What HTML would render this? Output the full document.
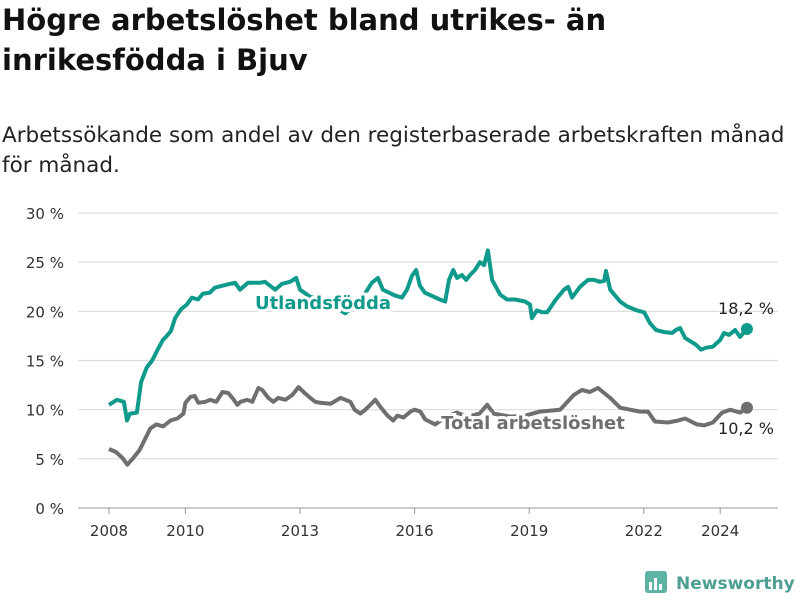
<!DOCTYPE html>
<html><head><meta charset="utf-8"><style>
body{margin:0;background:#fff;font-family:"DejaVu Sans",sans-serif;}
.wrap{position:relative;width:800px;height:600px;overflow:hidden}
h1{position:absolute;left:2px;top:0px;margin:0;font-size:29px;line-height:40px;font-weight:bold;color:#111;width:700px}
.sub{position:absolute;left:2px;top:121px;font-size:21.5px;line-height:30px;color:#222;width:798px;white-space:nowrap}
</style></head><body><div class="wrap">
<h1>Högre arbetslöshet bland utrikes- än inrikesfödda i Bjuv</h1>
<div class="sub">Arbetssökande som andel av den registerbaserade arbetskraften månad<br>för månad.</div>
<svg id="chart" width="800" height="600" style="position:absolute;left:0;top:0"></svg>
</div>
<script>
const yTicks=[0,5,10,15,20,25,30];
const xTicks=[2008,2010,2013,2016,2019,2022,2024];
const utlDates=[2008.00,2008.21,2008.39,2008.47,2008.55,2008.73,2008.84,2008.99,2009.13,2009.26,2009.41,2009.49,2009.62,2009.73,2009.88,2010.04,2010.17,2010.33,2010.46,2010.64,2010.77,2010.96,2011.17,2011.30,2011.43,2011.64,2011.82,2011.95,2012.08,2012.35,2012.53,2012.74,2012.90,2013.00,2013.26,2013.79,2014.18,2014.57,2014.88,2015.04,2015.17,2015.49,2015.67,2015.80,2015.93,2016.04,2016.14,2016.27,2016.66,2016.80,2016.90,2017.01,2017.11,2017.24,2017.35,2017.45,2017.58,2017.71,2017.82,2017.92,2018.03,2018.24,2018.42,2018.63,2018.89,2019.02,2019.07,2019.20,2019.34,2019.47,2019.70,2019.91,2020.02,2020.12,2020.33,2020.54,2020.70,2020.85,2020.96,2021.01,2021.12,2021.38,2021.56,2021.82,2022.01,2022.16,2022.32,2022.53,2022.74,2022.84,2022.95,2023.08,2023.37,2023.50,2023.63,2023.81,2024.00,2024.10,2024.23,2024.39,2024.52,2024.70];
const utlValues=[10.5,11.0,10.8,8.9,9.6,9.7,12.8,14.3,15.0,16.0,17.1,17.4,18.0,19.3,20.2,20.7,21.4,21.2,21.8,21.9,22.4,22.6,22.8,22.9,22.2,22.9,22.9,22.9,23.0,22.2,22.8,23.0,23.4,22.2,21.5,20.8,19.8,21.0,22.9,23.4,22.2,21.6,21.4,22.2,23.6,24.2,22.6,21.9,21.2,21.0,23.2,24.2,23.4,23.7,23.2,23.7,24.2,25.0,24.7,26.2,23.2,21.7,21.2,21.2,21.0,20.7,19.3,20.1,19.9,19.9,21.2,22.2,22.5,21.4,22.5,23.2,23.2,23.0,23.1,24.1,22.2,21.0,20.5,20.1,19.9,18.8,18.1,17.9,17.8,18.1,18.3,17.3,16.6,16.1,16.3,16.4,17.1,17.8,17.6,18.1,17.4,18.2];
const totDates=[2008.00,2008.18,2008.35,2008.48,2008.64,2008.80,2008.93,2009.08,2009.24,2009.42,2009.61,2009.79,2009.95,2010.00,2010.13,2010.24,2010.34,2010.52,2010.65,2010.81,2010.97,2011.12,2011.23,2011.36,2011.44,2011.62,2011.75,2011.91,2012.01,2012.17,2012.30,2012.43,2012.62,2012.80,2012.96,2013.12,2013.27,2013.40,2013.53,2013.80,2014.06,2014.32,2014.43,2014.58,2014.71,2014.84,2014.97,2015.10,2015.29,2015.44,2015.55,2015.71,2015.89,2016.00,2016.15,2016.28,2016.54,2016.80,2017.10,2017.40,2017.70,2017.90,2018.07,2018.50,2018.90,2019.28,2019.81,2020.17,2020.38,2020.59,2020.80,2021.12,2021.38,2021.64,2021.90,2022.11,2022.29,2022.63,2022.90,2023.08,2023.39,2023.58,2023.81,2024.05,2024.26,2024.52,2024.70];
const totValues=[6.0,5.7,5.1,4.4,5.1,5.9,6.9,8.1,8.5,8.3,8.9,9.1,9.6,10.7,11.3,11.4,10.7,10.8,11.0,10.8,11.8,11.7,11.2,10.5,10.8,11.0,10.8,12.2,12.0,11.2,10.8,11.2,11.0,11.5,12.3,11.7,11.2,10.8,10.7,10.6,11.2,10.8,10.0,9.6,10.0,10.5,11.0,10.3,9.4,8.9,9.4,9.2,9.8,10.0,9.8,9.0,8.5,9.2,9.7,9.3,9.6,10.5,9.6,9.3,9.4,9.8,10.0,11.5,12.0,11.8,12.2,11.2,10.2,10.0,9.8,9.8,8.8,8.7,8.9,9.1,8.5,8.4,8.7,9.7,10.0,9.7,10.2];
const endLabels=["18,2 %","10,2 %"];

const NS="http://www.w3.org/2000/svg";
const FONT='DejaVu Sans, sans-serif';
const svg=document.getElementById('chart');
const X=y=>109+(y-2008)*38.2;
const Y=v=>508-v*9.833;
function mk(tag,attrs,parent){const e=document.createElementNS(NS,tag);for(const k in attrs)e.setAttribute(k,attrs[k]);(parent||svg).appendChild(e);return e;}
yTicks.forEach(t=>{
  const g=mk('line',{x1:78,x2:778,y1:Y(t),y2:Y(t),stroke:t===0?'#bbb':'#ddd','stroke-width':t===0?1.5:1.2});
  
  
  const l=mk('text',{x:64,y:Y(t)+6,'text-anchor':'end','font-size':15,fill:'#333','font-family':FONT});
  l.textContent=t+' %';
  
  
});
xTicks.forEach(t=>{
  const tk=mk('line',{x1:X(t),x2:X(t),y1:508,y2:514,stroke:'#999','stroke-width':1});
  
  
  const l=mk('text',{x:X(t),y:536,'text-anchor':'middle','font-size':15,fill:'#333','font-family':FONT});
  l.textContent=t;
  
  
});
function line(d,v,color,name){
  const p=mk('path',{d:d.map((x,i)=>(i?'L':'M')+X(x).toFixed(1)+','+Y(v[i]).toFixed(1)).join(''),fill:'none',stroke:color,'stroke-width':4,'stroke-linejoin':'round'});
  
  
  const c=mk('circle',{cx:X(d[d.length-1]),cy:Y(v[v.length-1]),r:6,fill:color});
  
  
}
line(totDates,totValues,'#6f6f6f','total-line');
line(utlDates,utlValues,'#0f9a8c','utlandsfodda-line');
function label(txt,x,y,color,name){
  const t=mk('text',{x:x,y:y,'text-anchor':'middle','font-size':18,'font-weight':'bold',fill:color,stroke:'#fff','stroke-width':6,'paint-order':'stroke','font-family':FONT});
  t.textContent=txt;
  
  
}
label('Utlandsfödda',323,309,'#0f9a8c','utlandsfodda-label');
label('Total arbetslöshet',533,429,'#6f6f6f','total-label');
const e1=mk('text',{x:746,y:314,'text-anchor':'middle','font-size':16,fill:'#222','font-family':FONT});
e1.textContent=endLabels[0];


const e2=mk('text',{x:746,y:434,'text-anchor':'middle','font-size':16,fill:'#222','font-family':FONT});
e2.textContent=endLabels[1];


const lg=mk('g',{});


mk('rect',{x:645,y:571,width:22,height:22,rx:3,fill:'#5fb3a4'},lg);
mk('rect',{x:649,y:582,width:3,height:8,fill:'#fff'},lg);
mk('rect',{x:654,y:578,width:3,height:12,fill:'#fff'},lg);
mk('rect',{x:659,y:584,width:3,height:6,fill:'#fff'},lg);
const lt=mk('text',{x:676,y:589,'font-size':17,'font-weight':'bold',fill:'#4e9f92','font-family':FONT},lg);
lt.textContent='Newsworthy';
</script>
</body></html>
